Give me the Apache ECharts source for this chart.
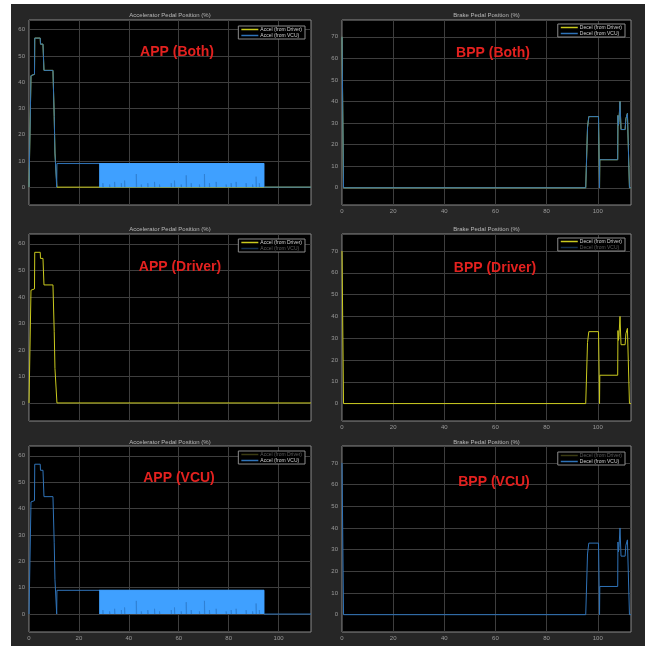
<!DOCTYPE html>
<html>
<head>
<meta charset="utf-8">
<script src="https://cdn.jsdelivr.net/npm/echarts@6/dist/echarts.min.js"></script>
<style>
html, body { margin: 0; padding: 0; background: #fff; }
#frame { position: absolute; left: 11px; top: 4px; width: 634px; height: 642px; background: #262626; }
#main { position: absolute; left: 0; top: 0; width: 651px; height: 646px; }
</style>
</head>
<body>
<div id="frame"></div>
<div id="main"></div>
<script>
// accelerator pedal, driver request (%)
var appDriverX = [0, 0.7, 0.8, 1.0, 2.2, 2.3, 4.5, 4.6, 5.6, 6.0, 9.6, 10.1, 10.4, 10.9, 11.2, 113];
var appDriverY = [0, 0, 42.5, 43, 43, 56.8, 56.8, 54.5, 54.5, 44.5, 44.5, 27, 13, 13, 0, 0];
// accelerator pedal, VCU (%)
var appVcuX = [0, 0.7, 0.8, 1.0, 2.2, 2.3, 4.5, 4.6, 5.6, 6.0, 9.6, 10.1, 10.4, 10.9, 11.1, 11.2, 28.1, 94.2, 94.2, 113];
var appVcuY = [0, 0, 42.5, 43, 43, 56.8, 56.8, 54.5, 54.5, 44.5, 44.5, 27, 13, 13, 0, 9, 9, 9, 0, 0];
// dense toggling part of the VCU signal
var appBandX = [28.1, 94.2];
var appBandY = [9, 9];
var spikeX = [29.6, 32.3, 34.3, 37.0, 38.3, 43.0, 45.0, 47.6, 50.3, 52.3, 57.0, 58.3, 61.0, 63.0, 65.0, 68.3, 70.3, 72.3, 75.0, 79.0, 81.0, 83.0, 87.0, 89.6, 91.0, 92.3];
var spikeY = [1.5, 1.0, 2.0, 1.5, 2.5, 5.0, 1.0, 1.5, 2.0, 1.0, 1.5, 2.5, 1.0, 4.5, 1.5, 1.0, 5.0, 1.5, 2.0, 1.0, 1.5, 2.0, 1.5, 1.0, 4.0, 1.5];
// brake pedal (%)
var bppX = [0, 0.5, 0.6, 95.3, 95.8, 96.0, 96.5, 100.3, 100.7, 100.8, 107.8, 107.9, 108.1, 108.3, 108.7, 109.0, 109.1, 110.7, 111.0, 111.2, 111.6, 112.2, 112.4, 113];
var bppDriverY = [70, 70, 0, 0, 20, 28, 33, 33, 0, 13, 13, 33.5, 29, 31, 40, 30, 27, 27, 32, 32, 34.5, 34.5, 0, 0];
var bppVcuY = [70, 70, 0, 0, 20, 28, 33, 33, 0, 13, 13, 33.5, 29, 31, 40, 30, 27, 27, 32, 32, 34.5, 34.5, 0, 0];

var xTicks = [0, 20, 40, 60, 80, 100];
var appTicks = [0, 10, 20, 30, 40, 50, 60];
var bppTicks = [0, 10, 20, 30, 40, 50, 60, 70];

var YELLOW = '#caca1e', BLUE = '#2f73b8', BAND = '#3fa0ff';

function pairs(xs, ys) {
    return xs.map(function (x, i) { return [x, ys[i]]; });
}
function spikes(xs, ys) {
    var out = [];
    xs.forEach(function (x, i) {
        out.push([x, 0], [x, ys[i]], [x + 0.15, 0], [x + 0.15, '-']);
    });
    return out;
}

var rowTop = [20, 234, 446];
var rowH = [185, 187, 186];
var colLeft = [29, 342];
var colW = [282, 289];

var panels = [
    {kind: 'app', row: 0, col: 0, drv: true, vcu: true, tag: 'APP (Both)', tx: 177, ty: 52, xl: false, lt: 26},
    {kind: 'bpp', row: 0, col: 1, drv: true, vcu: true, tag: 'BPP (Both)', tx: 493, ty: 53, xl: true, lt: 24},
    {kind: 'app', row: 1, col: 0, drv: true, vcu: false, tag: 'APP (Driver)', tx: 180, ty: 267, xl: false, lt: 239},
    {kind: 'bpp', row: 1, col: 1, drv: true, vcu: false, tag: 'BPP (Driver)', tx: 495, ty: 268, xl: true, lt: 238},
    {kind: 'app', row: 2, col: 0, drv: false, vcu: true, tag: 'APP (VCU)', tx: 179, ty: 478, xl: true, lt: 451},
    {kind: 'bpp', row: 2, col: 1, drv: false, vcu: true, tag: 'BPP (VCU)', tx: 494, ty: 482, xl: true, lt: 452}
];
var titleY = [15, 229, 442];

var grid = [], xAxis = [], yAxis = [], series = [], legend = [], graphic = [];

panels.forEach(function (p, i) {
    var app = p.kind === 'app';
    grid.push({
        left: colLeft[p.col], top: rowTop[p.row], width: colW[p.col], height: rowH[p.row],
        show: true, backgroundColor: '#000', borderColor: '#8a8a8a', borderWidth: 1
    });
    xAxis.push({
        type: 'value', gridIndex: i, min: 0, max: 113,
        axisLine: {show: false},
        axisTick: {show: false, customValues: xTicks},
        axisLabel: {show: p.xl, customValues: xTicks, color: '#9a9a9a', fontSize: 6, margin: 3, fontFamily: 'Liberation Sans'},
        splitLine: {show: true, lineStyle: {color: '#3e3e3e', width: 1}}
    });
    yAxis.push({
        type: 'value', gridIndex: i,
        min: app ? -6.8 : -8, max: app ? 63.7 : 77.8,
        axisLine: {show: false},
        axisTick: {show: false, customValues: app ? appTicks : bppTicks},
        axisLabel: {customValues: app ? appTicks : bppTicks, color: '#9a9a9a', fontSize: 6, margin: 4, fontFamily: 'Liberation Sans'},
        splitLine: {show: true, lineStyle: {color: '#3e3e3e', width: 1}}
    });
    var nD = app ? 'Accel (from Driver)' : 'Decel (from Driver)';
    var nV = app ? 'Accel (from VCU)' : 'Decel (from VCU)';
    var base = {type: 'line', xAxisIndex: i, yAxisIndex: i, showSymbol: false, symbol: 'none', animation: false, silent: true};
    if (p.drv) {
        series.push(Object.assign({}, base, {
            name: nD, z: 2, data: pairs(app ? appDriverX : bppX, app ? appDriverY : bppDriverY),
            lineStyle: {color: YELLOW, width: 1}, itemStyle: {color: YELLOW}
        }));
    }
    if (p.vcu) {
        series.push(Object.assign({}, base, {
            name: nV, z: 3, data: pairs(app ? appVcuX : bppX, app ? appVcuY : bppVcuY),
            lineStyle: {color: BLUE, width: 1}, itemStyle: {color: BLUE}
        }));
        if (app) {
            series.push(Object.assign({}, base, {
                name: 'band' + i, z: 4, data: pairs(appBandX, appBandY),
                lineStyle: {color: BAND, width: 1}, areaStyle: {color: BAND, opacity: 1, origin: 0}
            }));
            series.push(Object.assign({}, base, {
                name: 'spikes' + i, z: 5, data: spikes(spikeX, spikeY), connectNulls: false,
                lineStyle: {color: '#2e7fd2', width: 0.8}
            }));
        }
    }
    var dimD = {name: nD, itemStyle: {color: p.drv ? YELLOW : '#3b3b12'}, textStyle: {color: p.drv ? '#d0d0d0' : '#5a5a5a'}};
    var dimV = {name: nV, itemStyle: {color: p.vcu ? BLUE : '#17314f'}, textStyle: {color: p.vcu ? '#d0d0d0' : '#5a5a5a'}};
    legend.push({
        data: [dimD, dimV], orient: 'vertical',
        right: p.col === 0 ? 346 : 26, top: p.lt,
        icon: 'rect', itemWidth: 17, itemHeight: 1.5, itemGap: 1,
        padding: [1, 3, 1, 3], backgroundColor: '#000', borderColor: '#8a8a8a', borderWidth: 1,
        selectedMode: false, inactiveColor: '#5a5a5a',
        textStyle: {fontSize: 5, color: '#d0d0d0', fontFamily: 'Liberation Sans', padding: [0, 0, 0, -3]}
    });
    graphic.push({
        type: 'text', x: colLeft[p.col] + colW[p.col] / 2, y: titleY[p.row],
        style: {text: app ? 'Accelerator Pedal Position (%)' : 'Brake Pedal Position (%)',
            fill: '#b8b8b8', font: '6px "Liberation Sans"', align: 'center', verticalAlign: 'middle',
            textAlign: 'center', textVerticalAlign: 'middle'}
    });
    graphic.push({
        type: 'text', x: p.tx, y: p.ty, z: 100,
        style: {text: p.tag, fill: '#e3211f', font: 'bold 14px "Liberation Sans"', align: 'center', verticalAlign: 'middle',
            textAlign: 'center', textVerticalAlign: 'middle'}
    });
});

var chart = echarts.init(document.getElementById('main'), null, {renderer: 'canvas'});
chart.setOption({
    backgroundColor: 'transparent',
    animation: false,
    grid: grid,
    xAxis: xAxis,
    yAxis: yAxis,
    legend: legend,
    series: series,
    graphic: graphic
});
</script>
</body>
</html>
